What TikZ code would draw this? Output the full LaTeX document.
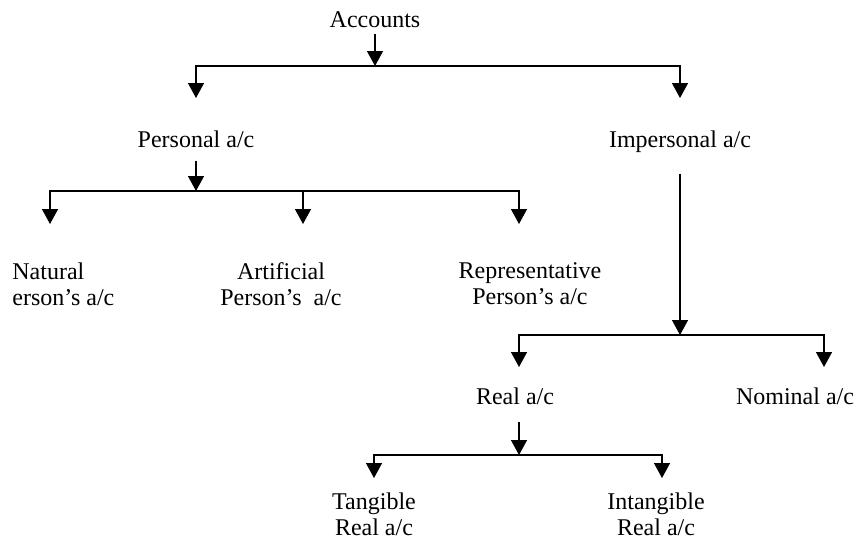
\documentclass[tikz,border=0pt]{standalone}
\usepackage{fontspec}
\setmainfont{Liberation Serif}
\usetikzlibrary{arrows.meta}
\tikzset{
  acc/.style  = {font=\fontsize{12}{13}\selectfont, inner sep=0pt, align=center},
  dn/.style   = {-{Triangle[width=8pt,length=7.5pt]}, draw=black, line width=0.7pt},
}
\begin{document}
\begin{tikzpicture}[x=0.5pt,y=-0.5pt]
  \useasboundingbox (0,0) rectangle (860,538);
  % top level
  \node[acc, anchor=base] (top) at (375,27) {Accounts};
  \node[acc, anchor=base] (per) at (196,147) {Personal a/c};
  \node[acc, anchor=base] (imp) at (680,147) {Impersonal a/c};
  \coordinate (topJ) at (375,66);
  \coordinate (perT) at (196,98);
  \coordinate (impT) at (680,98);
  \draw[dn, shorten <=3pt] (top.south -| topJ) -- (topJ);
  \draw[dn] (topJ) -| (perT);
  \draw[dn] (topJ) -| (impT);
  % personal accounts
  \node[acc, align=left, anchor=west] (nat) at (12,284) {Natural\\erson’s a/c};
  \node[acc] (art) at (281,284) {Artificial\\Person’s\ \ a/c};
  \node[acc] (rep) at (530,284) {Representative\\Person’s a/c};
  \coordinate (perJ) at (196,191);
  \coordinate (natT) at (50,224);
  \coordinate (artT) at (303,224);
  \coordinate (repT) at (519,224);
  \draw[dn, shorten <=6.5pt] (per.south -| perJ) -- (perJ);
  \draw[dn] (perJ) -| (natT);
  \draw[dn] (perJ) -| (repT);
  \draw[dn] (perJ -| artT) -- (artT);
  % impersonal accounts
  \node[acc, anchor=base] (real) at (515,404) {Real a/c};
  \node[acc, anchor=base] (nom) at (795,404) {Nominal a/c};
  \coordinate (impJ) at (680,335);
  \coordinate (realT) at (519,367);
  \coordinate (nomT) at (824,367);
  \draw[dn, shorten <=10.5pt] (imp.south -| impJ) -- (impJ);
  \draw[dn] (impJ) -| (realT);
  \draw[dn] (impJ) -| (nomT);
  % real accounts
  \node[acc] (tan) at (374,514) {Tangible\\Real a/c};
  \node[acc] (intan) at (656,514) {Intangible\\Real a/c};
  \coordinate (realJ) at (519,455);
  \coordinate (tanT) at (374,478);
  \coordinate (intanT) at (662,478);
  \draw[dn, shorten <=8.5pt] (real.south -| realJ) -- (realJ);
  \draw[dn] (realJ) -| (tanT);
  \draw[dn] (realJ) -| (intanT);
\end{tikzpicture}
\end{document}
